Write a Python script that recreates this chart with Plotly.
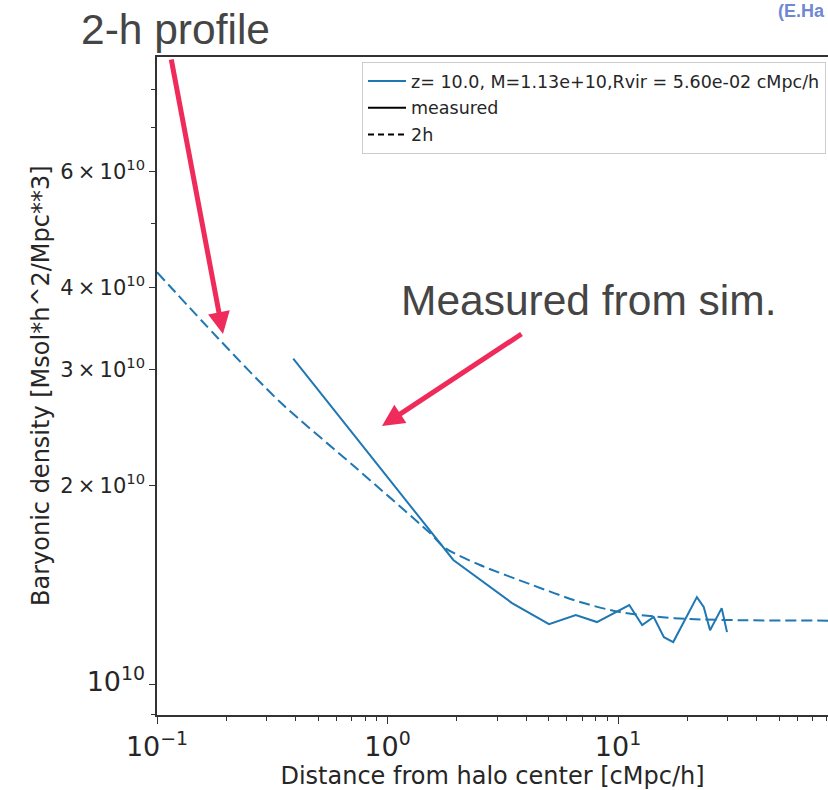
import plotly.graph_objects as go

# Measured baryonic density profile (radial bins in cMpc/h, density in Msol h^2 / Mpc^3)
r_meas = [0.39, 1.93, 3.47, 5.02, 6.56, 8.10, 11.19, 12.73, 14.28,
          15.82, 17.36, 21.99, 23.54, 25.08, 28.17, 29.71]
rho_meas = [3.12e10, 1.543e10, 1.327e10, 1.233e10, 1.273e10, 1.242e10,
            1.318e10, 1.229e10, 1.264e10, 1.178e10, 1.158e10,
            1.355e10, 1.309e10, 1.207e10, 1.304e10, 1.199e10]

# Two-halo term prediction
r_2h = [0.1, 0.184, 0.342, 0.723, 1.529, 1.776, 2.52, 4.15, 6.84, 10.2, 14.8, 20.5, 33.8, 100]
rho_2h = [4.22e10, 3.35e10, 2.68e10, 2.135e10, 1.695e10, 1.609e10, 1.516e10, 1.418e10,
          1.332e10, 1.286e10, 1.265e10, 1.255e10, 1.250e10, 1.248e10]

halo_label = "z= 10.0, M=1.13e+10,Rvir = 5.60e-02 cMpc/h"

# Axis ticks
x_major = [0.1, 1, 10]
x_major_text = ["10<sup>\u22121</sup>", "10<sup>0</sup>", "10<sup>1</sup>"]
x_minor = [0.2, 0.3, 0.4, 0.5, 0.6, 0.7, 0.8, 0.9,
           2, 3, 4, 5, 6, 7, 8, 9, 20, 30, 40, 50, 60, 70, 80, 90]
y_major = [1e10, 2e10, 3e10, 4e10, 6e10]
y_major_text = ["<span style='font-size:27px'>10<sup>10</sup></span>",
                "2\u2009\u00d7\u200910<sup>10</sup>", "3\u2009\u00d7\u200910<sup>10</sup>",
                "4\u2009\u00d7\u200910<sup>10</sup>", "6\u2009\u00d7\u200910<sup>10</sup>"]
y_minor = [9e9, 5e10, 7e10, 8e10]

BLUE = "#1f77b4"
RED = "#ef2b5b"
INK = "#262626"
W, H = 828, 790
L, R, T, B = 157, 0, 57, 75
pw, ph = W - L - R, H - T - B


def px(x):
    return (x - L) / pw


def py(y):
    return (H - B - y) / ph


fig = go.Figure()
fig.add_trace(go.Scatter(x=r_meas, y=rho_meas, mode="lines", name=halo_label,
                         line=dict(color=BLUE, width=2), legendgroup="a"))
fig.add_trace(go.Scatter(x=r_2h, y=rho_2h, mode="lines", showlegend=False,
                         line=dict(color=BLUE, width=2, dash="11px,5px",
                                   shape="spline", smoothing=0.8)))
fig.add_trace(go.Scatter(x=[None], y=[None], mode="lines", name="measured",
                         line=dict(color="black", width=2), legendgroup="b"))
fig.add_trace(go.Scatter(x=[None], y=[None], mode="lines", name="2h",
                         line=dict(color="black", width=2, dash="6px,4px"), legendgroup="c"))

axis_common = dict(showline=True, linecolor="#333", linewidth=1.5, ticks="outside",
                   tickcolor="#333", showgrid=False, zeroline=False)

fig.update_xaxes(type="log", range=[-1, 1.911], tickmode="array", tickvals=x_major,
                 ticktext=x_major_text, ticklen=7, mirror=True,
                 tickfont=dict(family="DejaVu Sans", size=27, color=INK),
                 minor=dict(tickmode="array", tickvals=x_minor, ticks="outside",
                            ticklen=4, tickcolor="#333"),
                 title=dict(text="Distance from halo center [cMpc/h]", standoff=6,
                            font=dict(family="DejaVu Sans", size=24, color=INK)),
                 **axis_common)
fig.update_yaxes(type="log", range=[9.953, 10.952], tickmode="array", tickvals=y_major,
                 ticktext=y_major_text, ticklen=6,
                 tickfont=dict(family="DejaVu Sans", size=21, color=INK),
                 minor=dict(tickmode="array", tickvals=y_minor, ticks="outside",
                            ticklen=4, tickcolor="#333"),
                 **axis_common)

annotations = [
    dict(x=px(41), y=0.5, xref="paper", yref="paper",
         text="Baryonic density [Msol*h^2/Mpc**3]", textangle=-90,
         showarrow=False, xanchor="center", yanchor="middle",
         font=dict(family="DejaVu Sans", size=24, color=INK)),
    dict(x=px(223), y=py(334), xref="paper", yref="paper", text="", showarrow=True,
         ax=-52, ay=-276, arrowhead=2, arrowsize=0.88, arrowwidth=5, arrowcolor=RED),
    dict(x=px(382), y=py(426), xref="paper", yref="paper", text="", showarrow=True,
         ax=141, ay=-93, arrowhead=2, arrowsize=0.88, arrowwidth=5, arrowcolor=RED),
    dict(x=px(79), y=py(30), xref="paper", yref="paper", text="2-h profile",
         showarrow=False, xanchor="left", yanchor="middle",
         font=dict(family="Liberation Sans", size=42.5, color="#454545")),
    dict(x=px(399), y=py(300), xref="paper", yref="paper", text="Measured from sim.",
         showarrow=False, xanchor="left", yanchor="middle",
         font=dict(family="Liberation Sans", size=42.5, color="#454545")),
    dict(x=px(776), y=py(11), xref="paper", yref="paper", text="<b>(E.Ha</b>",
         showarrow=False, xanchor="left", yanchor="middle",
         font=dict(family="Liberation Sans", size=18, color="#7088d4")),
]

fig.update_layout(
    width=W, height=H, margin=dict(l=L, r=R, t=T, b=B),
    paper_bgcolor="white", plot_bgcolor="white",
    annotations=annotations,
    legend=dict(x=px(362), y=py(62), xanchor="left", yanchor="top",
                bgcolor="white", bordercolor="#cccccc", borderwidth=1,
                font=dict(family="DejaVu Sans", size=17.5, color=INK),
                itemwidth=38, traceorder="grouped", tracegroupgap=1),
)

fig.write_html("out.html")
